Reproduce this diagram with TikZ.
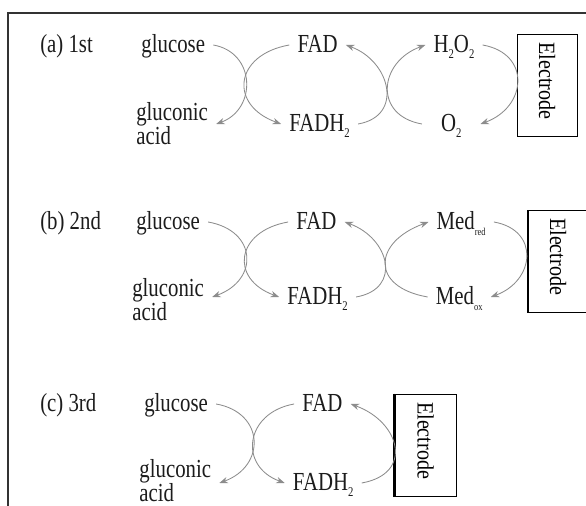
\documentclass[tikz,border=0pt]{standalone}
\usepackage{fontspec}
\setmainfont[FakeStretch=0.8]{Liberation Serif}
\newfontfamily\electrodefont[FakeStretch=0.86]{Liberation Serif}
\usetikzlibrary{arrows.meta}
\definecolor{arcgray}{HTML}{8C8C8C}
\definecolor{inkdark}{HTML}{1C1C1C}
\definecolor{framegray}{HTML}{333333}
\newcommand{\chsub}[1]{\raisebox{-0.22em}{\fontsize{9.5}{9.5}\selectfont #1}}
\newcommand{\medsub}[1]{\raisebox{-0.2em}{\fontsize{7.5}{7.5}\selectfont #1}}

\begin{document}
\begin{tikzpicture}[
  chem/.style={inner xsep=0.2cm, inner ysep=0pt, text height=0.5cm, text depth=0.1cm, text=inkdark, font=\fontsize{18.5}{22}\selectfont},
  chemleft/.style={chem, anchor=west},
  twoline/.style={inner xsep=0.2cm, inner ysep=0pt, anchor=north west, align=left, text=inkdark, font=\fontsize{18.5}{18}\selectfont},
  electrode/.style={draw=black, line width=0.9pt, rotate=-90, text width=2.15cm, inner xsep=0.2cm, minimum height=1.5cm, align=left, font=\electrodefont\fontsize{16.6}{18}\selectfont},
  arr/.style={-{Stealth[length=6pt,width=4.5pt]}, line width=0.6pt, color=arcgray}
]
  \useasboundingbox (0,0) rectangle (14.65,-12.65);
  \fill[white] (0,0) rectangle (14.65,-12.65);
  \draw[framegray, line width=1pt] (0.2,-13) |- (15,-0.32);

  % (a) oxygen as acceptor
  \node[chemleft] (lbla) at (0.8,-1.125) {(a) 1st};
  \node[chemleft] (glca) at (3.33,-1.125) {glucose};
  \node[twoline] (gaca) at (3.2,-2.56) {gluconic\\[-1.2pt]acid};
  \node[chem] (fada) at (7.94,-1.125) {FAD};
  \node[chem] (fadha) at (7.99,-3.1) {FADH\chsub{2}};
  \node[chem] (hpa) at (11.35,-1.125) {H\chsub{2}O\chsub{2}};
  \node[chem, minimum width=1.45cm] (oxa) at (11.28,-3.1) {O\chsub{2}};
  \node[electrode] (elca) at (13.68,-2.14) {Electrode};

  \draw[arr] (glca.east) to[out=-10,in=20,looseness=1.4] (gaca.east |- fadha.west);
  \draw[arr] (fada.west) to[out=190,in=160,looseness=1.8] (fadha.west);
  \draw[arr] (fadha.east) to[out=10,in=-20,looseness=1.5] (fada.east);
  \draw[arr] (oxa.west) to[out=170,in=200,looseness=1.6] (hpa.west);
  \draw[arr] (hpa.east) to[out=-10,in=20,looseness=1.6] (oxa.east);

  % (b) mediator
  \node[chemleft] (lblb) at (0.8,-5.55) {(b) 2nd};
  \node[chemleft] (glcb) at (3.2,-5.55) {glucose};
  \node[twoline] (gacb) at (3.1,-6.96) {gluconic\\[-1.2pt]acid};
  \node[chem] (fadb) at (7.91,-5.55) {FAD};
  \node[chem] (fadhb) at (7.94,-7.425) {FADH\chsub{2}};
  \node[chem] (medr) at (11.53,-5.55) {Med\medsub{red}};
  \node[chem] (medo) at (11.48,-7.425) {Med\medsub{ox}};
  \node[electrode] (elcb) at (13.95,-6.53) {Electrode};

  \draw[arr] (glcb.east) to[out=-10,in=20,looseness=1.7] (gacb.east |- fadhb.west);
  \draw[arr] (fadb.west) to[out=190,in=160,looseness=1.8] (fadhb.west);
  \draw[arr] (fadhb.east) to[out=10,in=-20,looseness=1.6] (fadb.east);
  \draw[arr] (medo.west) to[out=170,in=200,looseness=2.0] (medr.west);
  \draw[arr] (medr.east) to[out=-10,in=20,looseness=1.6] (medo.east);

  % (c) direct transfer
  \node[chemleft] (lblc) at (0.8,-10.1) {(c) 3rd};
  \node[chemleft] (glcc) at (3.4,-10.1) {glucose};
  \node[twoline] (gacc) at (3.28,-11.48) {gluconic\\[-1.2pt]acid};
  \node[chem] (fadc) at (8.06,-10.1) {FAD};
  \node[chem] (fadhc) at (8.08,-12.075) {FADH\chsub{2}};
  \node[electrode, minimum height=1.53cm] (elcc) at (10.64,-11.13) {Electrode};
  \draw[line width=1.6pt] (elcc.south west) -- (elcc.south east);

  \draw[arr] (glcc.east) to[out=-10,in=20,looseness=1.6] (gacc.east |- fadhc.west);
  \draw[arr] (fadc.west) to[out=190,in=160,looseness=1.6] (fadhc.west);
  \draw[arr] (fadhc.east) to[out=10,in=-20,looseness=1.7] (fadc.east);
\end{tikzpicture}
\end{document}
